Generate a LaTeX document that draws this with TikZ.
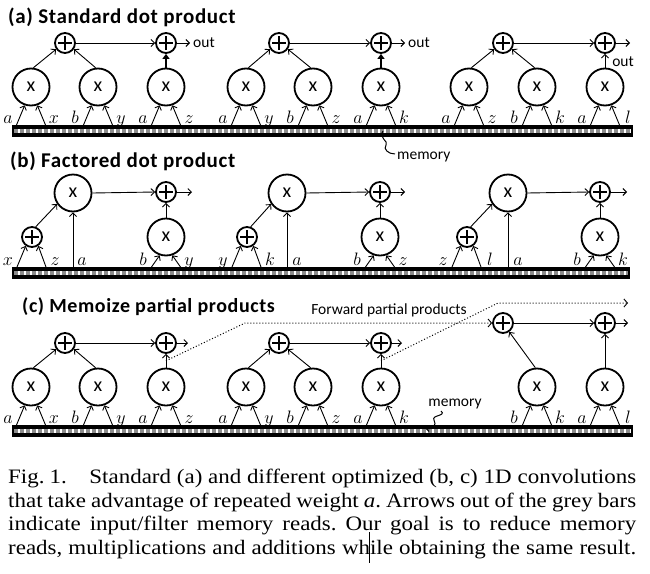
\documentclass[tikz,border=0pt]{standalone}
\usepackage{fix-cm}
\usepackage{fontspec}
\setmainfont{Liberation Serif}
\newfontfamily\capfnt{Liberation Serif}[FakeStretch=1.12]
\newfontfamily\calfnt{Carlito}
\newfontfamily\calbfnt{Carlito}[LetterSpace=3]
\usetikzlibrary{arrows.meta,calc}
\tikzset{
 mul/.style={circle, draw, line width=1.8pt, minimum size=37pt, inner sep=0pt, font=\calfnt\fontsize{20}{20}\selectfont},
 add/.style={circle, draw, line width=1.8pt, minimum size=20pt, inner sep=0pt,
   path picture={\draw[line width=2.6pt] ([xshift=-7pt]path picture bounding box.center) -- ([xshift=7pt]path picture bounding box.center) ([yshift=-7pt]path picture bounding box.center) -- ([yshift=7pt]path picture bounding box.center);}},
 conn/.style={line width=0.9pt, -{Straight Barb[length=3.5pt,width=7pt,line width=0.9pt]}},
 thickarr/.style={line width=2.4pt, -{Triangle[length=5pt,width=7pt]}},
 dotline/.style={dotted, line width=1pt, -{Straight Barb[length=3.5pt,width=8pt,line width=0.9pt]}},
 lab/.style={font=\fontsize{18}{18}\selectfont, inner sep=0pt, anchor=base},
 ttl/.style={font=\calbfnt\bfseries\fontsize{21}{21}\selectfont, anchor=west, inner sep=0pt},
 smalltxt/.style={font=\calfnt\fontsize{15.5}{15.5}\selectfont, inner sep=0pt},
 capline/.style={font=\capfnt\frenchspacing\fontsize{20.5}{23}\selectfont, inner sep=0pt, anchor=base west},
}
\newcommand{\mulin}[6]{%
 \node[mul] (#1) at (#2,#3) {x};
 \coordinate (#1L) at ({#2-14.5},#4);
 \coordinate (#1R) at ({#2+14.5},#4);
 \draw[conn] (#1L) -- (#1.251);
 \draw[conn] (#1R) -- (#1.289);
 \node[lab] (#1l) at ({#2-23},{#4-2}) {$#5$};
 \node[lab] (#1r) at ({#2+23},{#4-2}) {$#6$};
}
\newcommand{\addin}[6]{%
 \node[add] (#1) at (#2,#3) {};
 \coordinate (#1L) at ({#2-15},#4);
 \coordinate (#1R) at ({#2+14},#4);
 \draw[conn] (#1L) -- (#1.235);
 \draw[conn] (#1R) -- (#1.305);
 \node[lab] (#1l) at ({#2-24},{#4-2}) {$#5$};
 \node[lab] (#1r) at ({#2+23},{#4-2}) {$#6$};
}
\newcommand{\membar}[3]{%
 \fill[black] (12,#1) rectangle (#2,{#1+12});
 \draw[white, line width=4pt] (14,{#1+6}) -- ({#2-2},{#1+6});
 \draw[black!45, line width=4pt, dash pattern=on 4pt off 2pt] (14,{#1+6}) -- ({#2-2},{#1+6});
}
\begin{document}
\begin{tikzpicture}[x=1pt,y=-1pt]
\useasboundingbox (0,0) rectangle (650,573);
\fill[white] (0,0) rectangle (650,573);

% ---------- (a)
\node[ttl] (ta) at (8,17) {(a) Standard dot product};
\membar{125}{633}{}
\mulin{a1}{31}{87}{125}{a}{x}
\mulin{a2}{98}{87}{125}{b}{y}
\mulin{a3}{166}{87}{125}{a}{z}
\node[add] (ap1) at (65,43) {};
\node[add] (ap2) at (166,43) {};
\draw[conn] (a1.83) -- (ap1.215);
\draw[conn] (a2.97) -- (ap1.325);
\draw[conn] (ap1.east) -- (ap2.west);
\draw[thickarr] (a3.north) -- (ap2.south);
\coordinate (ao1) at (190,43);
\draw[conn] (ap2.east) -- (ao1);
\node[smalltxt, anchor=west] (aout1) at (193,43) {out};

\mulin{a4}{246}{87}{125}{a}{y}
\mulin{a5}{313}{87}{125}{b}{z}
\mulin{a6}{381}{87}{125}{a}{k}
\node[add] (ap3) at (279,43) {};
\node[add] (ap4) at (381,43) {};
\draw[conn] (a4.83) -- (ap3.215);
\draw[conn] (a5.97) -- (ap3.325);
\draw[conn] (ap3.east) -- (ap4.west);
\draw[thickarr] (a6.north) -- (ap4.south);
\coordinate (ao2) at (405,43);
\draw[conn] (ap4.east) -- (ao2);
\node[smalltxt, anchor=west] (aout2) at (408,43) {out};

\mulin{a7}{469}{87}{125}{a}{z}
\mulin{a8}{537}{87}{125}{b}{k}
\mulin{a9}{605}{87}{125}{a}{l}
\node[add] (ap5) at (503,43) {};
\node[add] (ap6) at (605,43) {};
\draw[conn] (a7.83) -- (ap5.215);
\draw[conn] (a8.97) -- (ap5.325);
\draw[conn] (ap5.east) -- (ap6.west);
\draw[conn] (a9.north) -- (ap6.south);
\coordinate (ao3) at (630,43);
\draw[conn] (ap6.east) -- (ao3);
\node[smalltxt] (aout3) at (623,62) {out};

\coordinate (sqa) at (383,131);
\coordinate (sqb) at (395,154);
\node[smalltxt, anchor=west] (mem1) at (397,157) {memory};
\draw[line width=1pt] (sqa) .. controls (378,138) and (389,141) .. (386,145) .. controls (383,149) and (388,154) .. (sqb);

% ---------- (b)
\node[ttl] (tb) at (10,161) {(b) Factored dot product};
\membar{267}{630}{}
\addin{b1}{32}{237}{267}{x}{z}
\node[mul] (bm1) at (73,193) {x};
\coordinate (bv1) at (73,267);
\draw[conn] (bv1) -- (bm1.south);
\node[lab] (bl1) at (82,265) {$a$};
\draw[conn] (b1.70) -- (bm1.215);
\node[add] (bp1) at (166,192) {};
\draw[conn] (bm1.east) -- (bp1.west);
\mulin{bx1}{166}{237}{267}{b}{y}
\draw[conn] (bx1.north) -- (bp1.south);
\coordinate (bo1) at (192,192);
\draw[conn] (bp1.east) -- (bo1);

\addin{b2}{247}{237}{267}{y}{k}
\node[mul] (bm2) at (287,193) {x};
\coordinate (bv2) at (287,267);
\draw[conn] (bv2) -- (bm2.south);
\node[lab] (bl2) at (297,265) {$a$};
\draw[conn] (b2.70) -- (bm2.215);
\node[add] (bp2) at (380,192) {};
\draw[conn] (bm2.east) -- (bp2.west);
\mulin{bx2}{380}{237}{267}{b}{z}
\draw[conn] (bx2.north) -- (bp2.south);
\coordinate (bo2) at (405,192);
\draw[conn] (bp2.east) -- (bo2);

\addin{b3}{467}{237}{267}{z}{l}
\node[mul] (bm3) at (508,193) {x};
\coordinate (bv3) at (508,267);
\draw[conn] (bv3) -- (bm3.south);
\node[lab] (bl3) at (518,265) {$a$};
\draw[conn] (b3.70) -- (bm3.215);
\node[add] (bp3) at (600,192) {};
\draw[conn] (bm3.east) -- (bp3.west);
\mulin{bx3}{600}{237}{267}{b}{k}
\draw[conn] (bx3.north) -- (bp3.south);
\coordinate (bo3) at (627,192);
\draw[conn] (bp3.east) -- (bo3);

% ---------- (c)
\node[ttl, font=\calbfnt\bfseries\fontsize{20}{20}\selectfont] (tc) at (22,307) {(c) Memoize partial products};
\membar{425}{633}{}
\mulin{c1}{31}{387}{425}{a}{x}
\mulin{c2}{98}{387}{425}{b}{y}
\mulin{c3}{166}{387}{425}{a}{z}
\node[add] (cp1) at (65,343) {};
\node[add] (cp2) at (166,343) {};
\draw[conn] (c1.83) -- (cp1.215);
\draw[conn] (c2.97) -- (cp1.325);
\draw[conn] (cp1.east) -- (cp2.west);
\draw[conn] (c3.north) -- (cp2.south);
\coordinate (co1) at (188,343);
\draw[conn] (cp2.east) -- (co1);

\mulin{c4}{246}{387}{425}{a}{y}
\mulin{c5}{313}{387}{425}{b}{z}
\mulin{c6}{381}{387}{425}{a}{k}
\node[add] (cp3) at (279,343) {};
\node[add] (cp4) at (381,343) {};
\draw[conn] (c4.83) -- (cp3.215);
\draw[conn] (c5.97) -- (cp3.325);
\draw[conn] (cp3.east) -- (cp4.west);
\draw[conn] (c6.north) -- (cp4.south);
\coordinate (co2) at (402,343);
\draw[conn] (cp4.east) -- (co2);

\mulin{c8}{537}{387}{425}{b}{k}
\mulin{c9}{605}{387}{425}{a}{l}
\node[add] (cp5) at (503,323) {};
\node[add] (cp6) at (605,323) {};
\draw[conn] (c8.95) -- (cp5.305);
\draw[conn] (cp5.east) -- (cp6.west);
\draw[conn] (c9.north) -- (cp6.south);
\coordinate (co3) at (628,323);
\draw[conn] (cp6.east) -- (co3);

\coordinate (d1) at ($(c3.north)!0.5!(cp2.south)$);
\coordinate (d1k) at (245,323);
\draw[dotline] (d1) -- (d1k) -- (cp5.west);
\coordinate (d2) at ($(c6.north)!0.5!(cp4.south)$);
\coordinate (d2k) at (498,303);
\coordinate (d2e) at (628,303);
\draw[dotline] (d2) -- (d2k) -- (d2e);
\node[smalltxt] (fwd) at (389,310) {Forward partial products};

\node[smalltxt] (mem2) at (455,404) {memory};
\coordinate (sqc) at (441,411);
\coordinate (sqd) at (426,429);
\draw[line width=1pt, -{Straight Barb[length=2.5pt,width=5pt,line width=0.9pt]}] (sqc) .. controls (447,416) and (431,415) .. (434,420) .. controls (437,425) and (433,429) .. (sqd);

% ---------- caption
\node[capline] (cap1) at (8,483.5) {\makebox[628pt][s]{Fig.\hspace{0.25em}1.\hspace{1.1em}Standard (a) and different optimized (b, c) 1D convolutions}};
\node[capline] (cap2) at (8,507) {\makebox[628pt][s]{that take advantage of repeated weight \textit{a}. Arrows out of the grey bars}};
\node[capline] (cap3) at (8,530.5) {\makebox[628pt][s]{indicate input/filter memory reads. Our goal is to reduce memory}};
\node[capline] (cap4) at (8,554) {\makebox[628pt][s]{reads, multiplications and additions while obtaining the same result.}};
\coordinate (cur1) at (369,532);
\coordinate (cur2) at (369,563);
\draw[line width=0.8pt] (cur1) -- (cur2);
\end{tikzpicture}
\end{document}
